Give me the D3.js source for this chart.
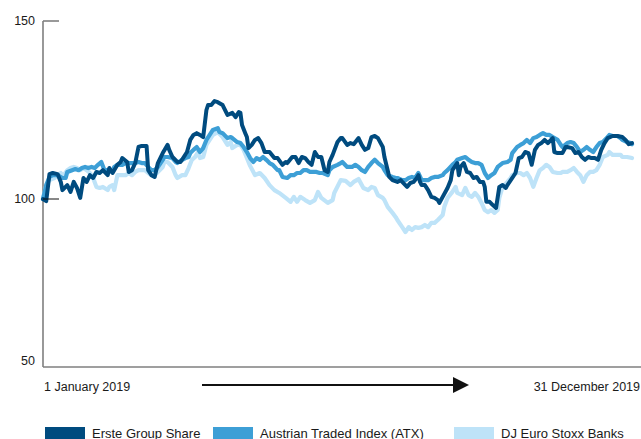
<!DOCTYPE html>
<html><head><meta charset="utf-8">
<script src="https://cdn.jsdelivr.net/npm/d3@7/dist/d3.min.js"></script>
<style>html,body{margin:0;padding:0;background:#fff;}svg{display:block;font-family:"Liberation Sans",Arial,sans-serif;}</style>
</head><body><svg id="c" width="641" height="439"></svg>
<script>
// Day offsets from 1 January 2019 and indexed values (start = 100)
const ersteDays = [0,2,4,6,9,11,12,15,17,19,21,23,25,27,29,31,33,35,37,40,41,43,46,48,49,52,53,55,57,59,61,64,65,67,69,71,74,77,78,80,83,85,87,89,91,93,95,97,99,101,102,104,106,108,111,114,117,119,121,122,123,125,126,127,129,131,133,135,137,140,143,145,148,150,151,154,156,158,160,162,164,166,168,170,172,174,176,177,179,182,184,185,188,190,192,195,197,199,201,203,205,207,210,211,213,214,216,219,221,222,225,227,229,231,232,233,234,236,238,240,242,244,245,247,250,252,253,256,257,258,260,262,264,266,268,270,272,273,274,276,278,280,282,284,286,287,290,292,294,296,298,300,302,304,306,308,310,312,315,316,318,321,323,324,327,329,331,333,335,337,339,341,343,345,347,349,352,355,358,360,362,364];
const ersteValues = [100,99.4,107,107.3,107,104.8,102.5,103.9,102,104.8,103.1,100.3,105.9,104.8,106.7,105.9,107.6,107.3,108.1,106.7,108.7,107.3,109.6,110.4,111.5,110.4,107.6,108.1,110.1,114.6,114.9,114.9,108.1,106.7,106.2,110.1,112.9,115.2,113.8,111.8,110.4,110.4,111.8,113.2,116.6,118,118.5,118,117.4,125,126.4,126.4,127.5,127.2,126.4,123.6,124.2,123,124.4,124.2,120.8,118.5,117.4,114.3,115.2,116.6,117.1,115.7,113.2,113.2,111.5,111.5,109.6,110.4,110.1,111.8,111.8,110.1,111.8,111.5,110.4,109.6,113.2,111.8,111.8,108.1,107.6,110.4,112.4,116,117.1,117.1,115.2,115.7,115.4,117.1,115.2,113.8,114.3,117.4,117.7,117.1,114.6,111.8,108.1,106.2,105.3,104.8,105.3,104.8,103.4,104.5,104.8,105.9,106.7,104.8,103.9,103.9,102.5,100.6,100.3,99.7,98.9,100.6,103.1,105.3,108.1,110.1,106.7,109,110.1,107.6,107.3,105.9,106.2,104.8,104.8,103.4,99.2,99.2,98.3,97.5,103.4,103.9,103.1,103.9,105.9,107.3,111.5,111.8,113.2,112.9,109.6,113.8,115.2,115.7,116.6,115.7,117.1,113.2,112.9,112.9,114.6,114.6,114.3,112.9,113.2,111.8,111,111.8,111.5,111.5,111,113.8,115.7,117.1,117.7,117.7,117.4,116.6,115.4,115.7];

const atxDays = [0,2,4,6,9,12,14,15,18,20,22,24,26,28,30,32,34,36,38,40,43,44,46,49,51,53,55,57,59,61,63,65,67,69,71,74,75,77,80,82,83,86,88,90,91,93,95,97,99,101,103,105,108,109,111,114,116,117,120,122,124,126,128,130,132,134,136,138,140,142,145,146,148,151,153,155,157,159,161,163,165,167,169,171,173,176,177,179,182,184,185,188,191,193,195,197,199,201,203,205,207,210,211,213,216,218,219,222,224,226,228,230,232,234,236,238,240,242,244,247,248,250,253,255,256,259,261,263,265,267,269,271,273,275,277,279,281,284,287,289,290,293,295,297,299,301,303,305,307,309,311,313,315,318,320,321,324,326,328,330,332,334,336,338,340,342,344,346,349,350,352,355,357,358,361,363,364];
const atxValues = [100,103.9,106.2,106.7,106.7,105.9,105.9,107.6,108.1,108.4,108.1,108.7,109,108.7,109,108.7,109.6,110.4,108.1,108.1,107.6,109,109.6,109.6,110.1,110.1,110.1,110.1,110.4,110.1,110.1,109,108.1,108.1,109,111,111.8,111.8,111.5,110.4,110.1,111,111.5,111.8,112.9,113.8,114.6,113.2,114.3,116.6,118,119.4,119.9,118.8,118.5,117.1,117.4,117.1,116,115.7,114.6,113.2,111.5,110.4,111.5,111,111.8,111,110.1,109.6,108.1,108.1,106.2,105.9,106.7,106.7,107.3,107.3,108.1,108.1,107.6,107.6,107.6,107.3,107.3,106.7,108.1,109,109.6,110.1,110.4,109,109,109.6,109,108.1,107.6,109,110.1,111,110.1,109,108.1,106.7,106.2,105.9,105.9,105.3,105.3,105.9,106.2,105.9,107.3,105.3,105.3,105.3,105.9,106.2,106.2,106.7,107.3,108.1,109.6,110.4,111,111.5,111.8,111,110.4,110.1,110.1,109.6,107.3,105.9,106.7,107.3,109,110.1,110.4,111,112.9,114.6,115.2,115.7,116.6,115.7,117.1,117.4,118,118.5,118,118,117.4,116.6,115.2,114.6,115.7,116,115.7,114.6,113.2,113.8,114.6,113.8,113.2,114.6,115.7,116,117.4,118,117.7,117.7,117.1,116.6,116,115.7,115.4];

const stoxxDays = [0,2,4,7,11,12,15,17,19,21,23,25,27,29,31,33,35,37,40,41,43,44,46,49,51,53,55,57,59,61,63,65,67,69,71,74,75,77,80,82,83,86,88,90,92,94,96,97,99,101,103,105,108,109,111,114,116,117,120,122,124,126,128,131,134,137,140,143,146,150,153,155,157,159,162,165,168,170,172,176,179,180,184,187,190,192,195,198,201,203,205,207,210,211,213,216,218,219,222,224,226,228,230,232,234,236,238,240,242,244,247,248,250,253,255,256,259,261,263,265,267,269,271,273,275,277,279,281,282,284,287,289,290,293,295,297,299,301,303,305,307,309,311,313,315,318,320,321,324,326,328,330,332,334,336,338,340,342,344,346,349,350,352,355,357,358,361,364];
const stoxxValues = [100,103.9,105.3,105.9,107.3,106.2,108.1,108.7,109,108.7,108.1,108.7,108.1,107.3,105.9,103.4,103.1,103.4,102.5,103.4,103.9,102.5,106.7,106.7,106.7,107.3,106.7,107.6,108.1,108.1,108.1,107.3,106.7,106.7,107.6,109,110.4,110.4,109,106.7,105.9,106.7,106.7,108.7,111,111.8,113.2,111.5,111.8,115.2,116.6,118,118.8,118.3,117.4,115.2,116,114.3,115.2,115.2,113.8,111.5,109.3,106.7,107.3,105.9,103.9,102.5,101.7,100.3,99.2,100.6,99.2,100.6,99.7,98.9,99.7,102,100.3,98.9,99.7,101.7,105.3,105.1,103.9,104.8,105.6,103.1,102.5,103.4,103.1,101.1,100.3,99.7,97.8,96.1,94.9,94.1,92.1,90.7,92.1,91.3,92.1,91.9,92.1,92.7,92.1,93.3,93.3,94.1,95.5,97.8,100.3,102,103.4,101.7,101.1,103.1,101.1,100.6,101.7,100.6,98.9,96.9,96.3,96.9,96.1,96.9,100.3,103.4,104.8,105.9,106.7,107.3,107.3,106.7,107.3,105.9,103.4,105.9,108.1,108.7,109.6,109,107.6,107.3,107.3,107.6,107.6,108.1,108.7,107.6,106.7,104.8,106.7,107.6,107.6,108.1,109.6,111.8,112.4,113.2,112.4,112.4,112.4,111.8,111.8,111.5];

const yTicks = [50, 100, 150];
const xLabels = ["1 January 2019", "31 December 2019"];
const seriesNames = ["Erste Group Share", "Austrian Traded Index (ATX)", "DJ Euro Stoxx Banks"];
const seriesColors = ["#004b7f", "#3d9fd6", "#bee3f8"];

const svg = d3.select("#c");
const start = new Date(2019, 0, 1);
const toDate = d => d3.timeDay.offset(start, d);
const x = d3.scaleTime().domain([start, new Date(2019, 11, 31)]).range([43, 632]);
const y = d3.scaleLinear().domain([100, 150]).range([199, 21]);
const plotBottom = 367;

// axes
svg.append("line").attr("x1", 43).attr("x2", 43).attr("y1", y(150)).attr("y2", plotBottom)
  .attr("stroke", "#7f7f7f").attr("stroke-width", 1.6);
svg.append("line").attr("x1", 43).attr("x2", 641).attr("y1", plotBottom).attr("y2", plotBottom)
  .attr("stroke", "#7f7f7f").attr("stroke-width", 1.6);
svg.append("line").attr("x1", 43).attr("x2", 59).attr("y1", y(150)).attr("y2", y(150))
  .attr("stroke", "#7f7f7f").attr("stroke-width", 1.6);

yTicks.forEach(v => {
  const py = v === 50 ? plotBottom - 6 : y(v);
  svg.append("text").attr("x", 35).attr("y", py).attr("dy", "0.35em")
    .attr("text-anchor", "end").attr("font-size", 12.5).attr("fill", "#1a1a1a").text(v);
});

const line = d3.line().x(d => x(toDate(d[0]))).y(d => y(d[1])).curve(d3.curveLinear);
const data = [
  d3.zip(ersteDays, ersteValues),
  d3.zip(atxDays, atxValues),
  d3.zip(stoxxDays, stoxxValues)
];
[2, 1, 0].forEach(i => {
  svg.append("path").datum(data[i]).attr("d", line).attr("fill", "none")
    .attr("stroke", seriesColors[i]).attr("stroke-width", i === 0 ? 4 : 4.2)
    .attr("stroke-linejoin", "round").attr("stroke-linecap", "round");
});

// 100 baseline tick (drawn over)
svg.append("line").attr("x1", 43).attr("x2", 59).attr("y1", y(100)).attr("y2", y(100))
  .attr("stroke", "#111").attr("stroke-width", 1);

// x labels
svg.append("text").attr("x", 44).attr("y", 391).attr("font-size", 12.5).attr("fill", "#1a1a1a").text(xLabels[0]);
svg.append("text").attr("x", 640).attr("y", 391).attr("text-anchor", "end").attr("font-size", 12.5).attr("fill", "#1a1a1a").text(xLabels[1]);

// arrow
svg.append("line").attr("x1", 202).attr("x2", 455).attr("y1", 385).attr("y2", 385)
  .attr("stroke", "#111").attr("stroke-width", 2.2);
svg.append("path").attr("d", "M453,377 L469,385 L453,393 Z").attr("fill", "#111");

// legend
const legX = [45, 213, 454];
seriesNames.forEach((n, i) => {
  svg.append("rect").attr("x", legX[i]).attr("y", 427).attr("width", 40).attr("height", 14).attr("fill", seriesColors[i]);
  svg.append("text").attr("x", legX[i] + 47).attr("y", 438).attr("font-size", 13).attr("fill", "#1a1a1a").text(n);
});
</script></body></html>
